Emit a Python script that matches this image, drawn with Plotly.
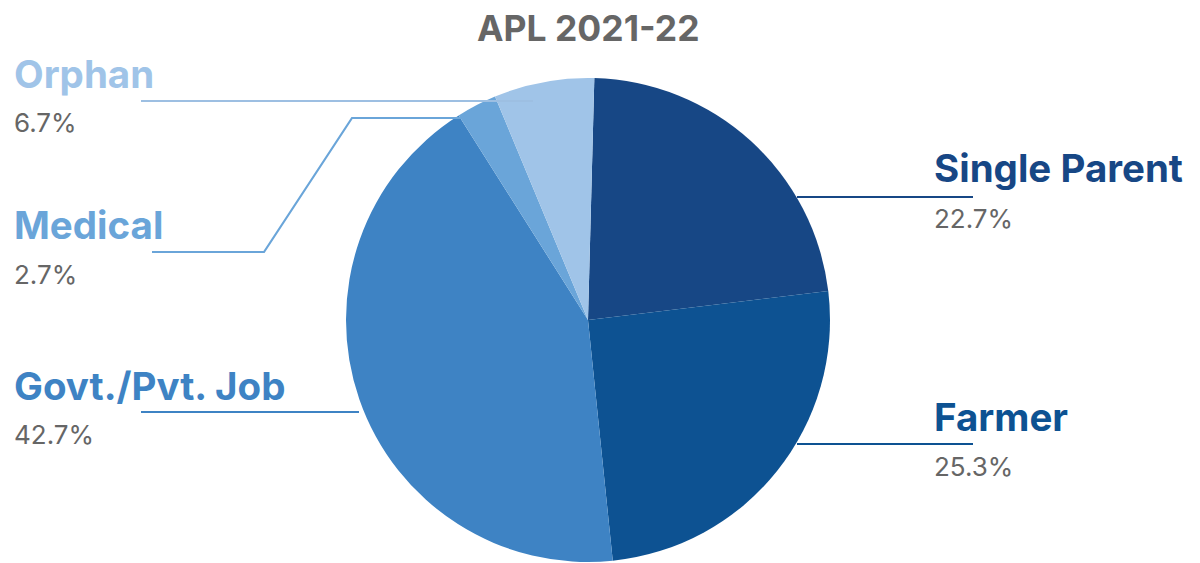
import plotly.graph_objects as go

W, H = 1200, 563

categories = ["Single Parent", "Farmer", "Govt./Pvt. Job", "Medical", "Orphan"]
percents = [22.7, 25.3, 42.7, 2.7, 6.7]
slice_colors = ["#174785", "#0d5292", "#3e83c4", "#6aa5d9", "#a0c4e8"]
title_text = "APL 2021-22"


def px(x):
    return x / W


def py(y):
    return 1 - y / H


cx, cy, r = 588, 320, 242

fig = go.Figure()
fig.add_trace(go.Pie(
    labels=categories,
    values=percents,
    sort=False,
    direction="clockwise",
    rotation=1.5,
    textinfo="none",
    marker=dict(colors=slice_colors, line=dict(width=0)),
    domain=dict(x=[px(cx - r), px(cx + r)], y=[py(cy + r), py(cy - r)]),
    showlegend=False,
    hoverinfo="label+percent",
))

# label layout: (name x, name y-center, pct y-center)
label_pos = {
    "Orphan": (12, 74, 123),
    "Medical": (12, 225, 274),
    "Govt./Pvt. Job": (12, 386, 434),
    "Single Parent": (932, 168, 218),
    "Farmer": (932, 417, 466),
}
leader_lines = {
    "Orphan": [(141, 101), (533, 101)],
    "Medical": [(152, 252), (264, 252), (352, 118), (472, 118)],
    "Govt./Pvt. Job": [(141, 412), (359, 412)],
    "Single Parent": [(797, 197), (973, 197)],
    "Farmer": [(797, 444), (973, 444)],
}
line_colors = {
    "Orphan": "#9dbfe2",
    "Medical": "#6aa5d9",
    "Govt./Pvt. Job": "#3e83c4",
    "Single Parent": "#174785",
    "Farmer": "#0d5292",
}

BOLD = "Inter"
REG = "Inter"

for name, pct, col in zip(categories, percents, slice_colors):
    x0, yn, yp = label_pos[name]
    fig.add_annotation(
        x=px(x0), y=py(yn), xref="paper", yref="paper",
        xanchor="left", yanchor="middle", showarrow=False,
        text=f"<b>{name}</b>",
        font=dict(family=BOLD, size=38.5, color=col),
    )
    fig.add_annotation(
        x=px(x0), y=py(yp), xref="paper", yref="paper",
        xanchor="left", yanchor="middle", showarrow=False,
        text=f"{pct:.1f}%",
        font=dict(family=REG, size=26, color="#666666"),
    )
    pts = leader_lines[name]
    path = "M " + " L ".join(f"{px(a)},{py(b)}" for a, b in pts)
    fig.add_shape(type="path", xref="paper", yref="paper", path=path,
                  line=dict(color=line_colors[name], width=2.2))

fig.add_annotation(
    x=px(588), y=py(29), xref="paper", yref="paper",
    xanchor="center", yanchor="middle", showarrow=False,
    text=f"<b>{title_text}</b>",
    font=dict(family=BOLD, size=35.5, color="#666666"),
)

fig.update_layout(
    width=W, height=H,
    margin=dict(l=0, r=0, t=0, b=0),
    paper_bgcolor="white",
    plot_bgcolor="white",
)

fig.write_html(
    "out.html",
    config={"displayModeBar": False},
    post_script="document.body.style.margin='0px';document.body.style.overflow='hidden';",
)
